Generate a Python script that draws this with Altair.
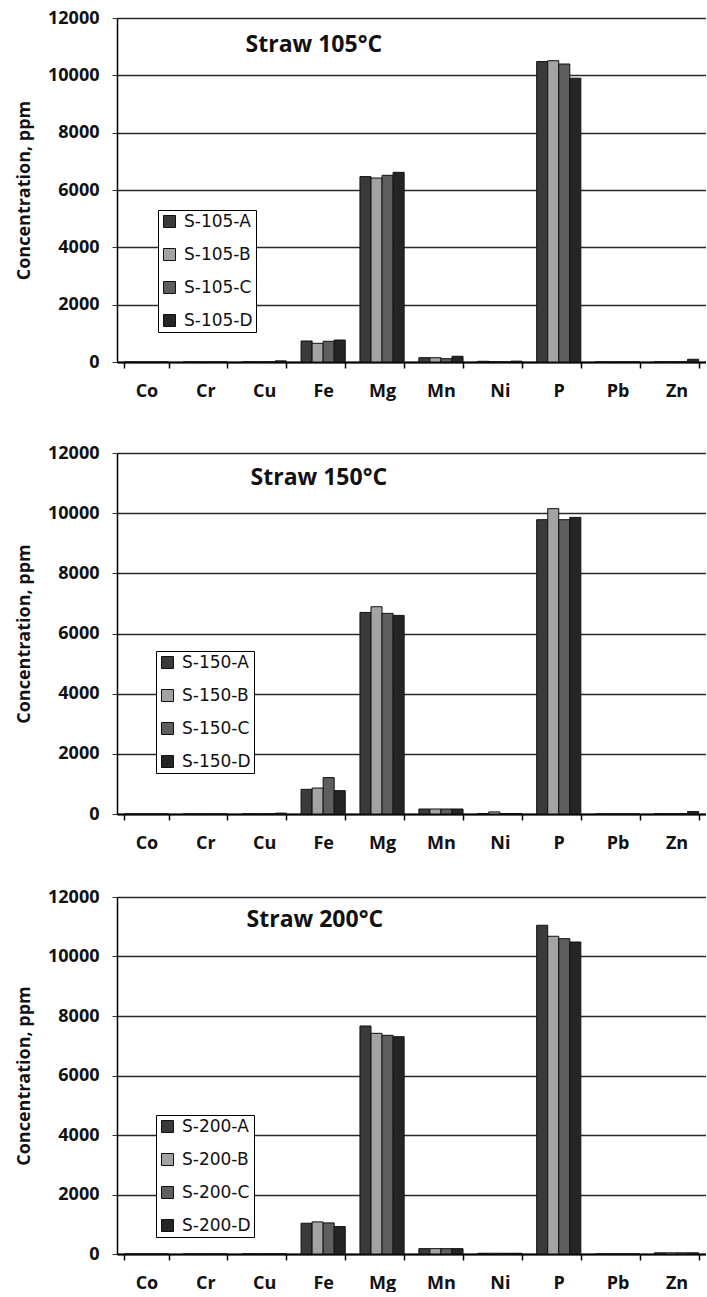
import altair as alt
import pandas as pd

elements = ["Co", "Cr", "Cu", "Fe", "Mg", "Mn", "Ni", "P", "Pb", "Zn"]
series_keys = ["A", "B", "C", "D"]
colors = ["#3a3a3a", "#a3a3a3", "#5e5e5e", "#252525"]

names_105 = ["S-105-A", "S-105-B", "S-105-C", "S-105-D"]
s105_a = [2, 3, 5, 733, 6467, 150, 25, 10480, 3, 10]
s105_b = [2, 3, 5, 652, 6418, 150, 10, 10510, 3, 10]
s105_c = [2, 3, 8, 722, 6512, 115, 5, 10395, 3, 10]
s105_d = [2, 3, 40, 767, 6617, 200, 30, 9900, 3, 95]

names_150 = ["S-150-A", "S-150-B", "S-150-C", "S-150-D"]
s150_a = [2, 3, 5, 820, 6700, 166, 15, 9783, 3, 10]
s150_b = [2, 3, 5, 863, 6890, 166, 70, 10150, 3, 10]
s150_c = [2, 3, 5, 1210, 6668, 166, 15, 9783, 3, 10]
s150_d = [2, 3, 30, 776, 6602, 166, 15, 9860, 3, 80]

names_200 = ["S-200-A", "S-200-B", "S-200-C", "S-200-D"]
s200_a = [2, 3, 5, 1034, 7664, 180, 25, 11050, 3, 40]
s200_b = [2, 3, 5, 1079, 7418, 180, 25, 10680, 3, 40]
s200_c = [2, 3, 5, 1045, 7351, 180, 25, 10600, 3, 40]
s200_d = [2, 3, 5, 921, 7305, 180, 25, 10487, 3, 40]

titles = ["Straw 105°C", "Straw 150°C", "Straw 200°C"]
y_ticks = [0, 2000, 4000, 6000, 8000, 10000, 12000]

FONT = "Open Sans"


def make_df(names, series):
    rows = []
    for key, name, vals in zip(series_keys, names, series):
        for el, v in zip(elements, vals):
            rows.append({"element": el, "series": key, "sample": name, "value": v})
    return pd.DataFrame(rows)


def panel(names, series, title, height, lx, ly, tdx, toff):
    df = make_df(names, series)
    return alt.Chart(df).mark_bar(stroke="#111111", strokeWidth=1).encode(
        x=alt.X("element:N", sort=elements,
                scale=alt.Scale(paddingInner=0.25, paddingOuter=0.125),
                axis=alt.Axis(title=None, labelAngle=0, tickBand="extent",
                              tickSize=6, tickColor="#000", tickWidth=1.5,
                              labelPadding=14, domainColor="#000", domainWidth=2,
                              grid=False)),
        xOffset=alt.XOffset("series:N", sort=series_keys,
                            scale=alt.Scale(domain=series_keys,
                                            paddingInner=0, paddingOuter=0)),
        y=alt.Y("value:Q", scale=alt.Scale(domain=[0, 12000]),
                axis=alt.Axis(title="Concentration, ppm", values=y_ticks,
                              format="d", tickSize=5, tickColor="#333",
                              labelPadding=13, titlePadding=14,
                              domainColor="#000", domainWidth=1.5,
                              grid=True, gridColor="#2a2a2a", gridWidth=1.5)),
        color=alt.Color("sample:N", sort=names,
                        scale=alt.Scale(domain=names, range=colors),
                        legend=alt.Legend(title=None, orient="none",
                                          legendX=lx, legendY=ly,
                                          fillColor="white", strokeColor="#000",
                                          padding=3, symbolType="square",
                                          symbolSize=144, symbolStrokeColor="#111",
                                          symbolStrokeWidth=1,
                                          labelFont="DejaVu Sans", labelFontSize=17,
                                          labelColor="#111", labelOffset=6,
                                          rowPadding=15)),
    ).properties(
        width=589, height=height,
        title=alt.TitleParams(text=title, anchor="start", dx=tdx, offset=toff,
                              font=FONT, fontSize=23, fontWeight="bold",
                              color="#111"),
    )


p1 = panel(names_105, [s105_a, s105_b, s105_c, s105_d], titles[0], 344, 41, 192, 230, -48)
p2 = panel(names_150, [s150_a, s150_b, s150_c, s150_d], titles[1], 361, 39, 198, 235, -46)
p3 = panel(names_200, [s200_a, s200_b, s200_c, s200_d], titles[2], 357, 39, 218, 231, -44)

top = alt.vconcat(p1, p2, spacing=44).resolve_scale(color="independent").resolve_legend(color="independent")
chart = alt.vconcat(top, p3, spacing=36).resolve_scale(color="independent").resolve_legend(color="independent")

chart = chart.properties(
    padding={"left": 15, "top": 9, "right": 0, "bottom": 0},
    background="white",
).configure_axis(
    labelFont=FONT, labelFontSize=18, labelFontWeight="bold", labelColor="#111",
    titleFont=FONT, titleFontSize=18, titleFontWeight="bold", titleColor="#111",
).configure_view(stroke=None)

chart.save("out.html", embed_options={"renderer": "svg", "actions": False})
